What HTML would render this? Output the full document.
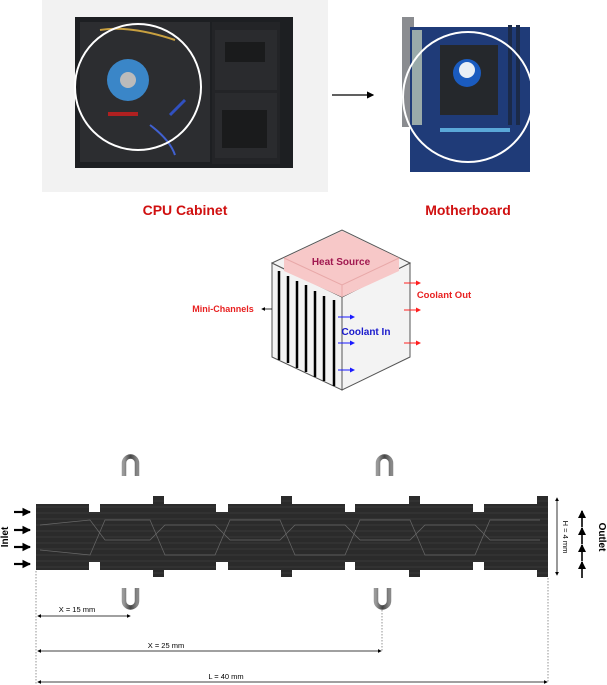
<!DOCTYPE html>
<html><head><meta charset="utf-8"><style>
html,body{margin:0;padding:0;background:#fff;}
svg{display:block;font-family:"Liberation Sans",Arial,sans-serif;}
</style></head><body>
<svg width="607" height="685" viewBox="0 0 607 685" xmlns="http://www.w3.org/2000/svg">
<defs>
<marker id="ah" markerWidth="6" markerHeight="6" refX="5" refY="3" orient="auto"><path d="M0,0 L6,3 L0,6 z" fill="#000"/></marker>
<marker id="ai" markerWidth="4" markerHeight="4" refX="3.5" refY="2" orient="auto"><path d="M0,0 L4,2 L0,4 z" fill="#000"/></marker>
<marker id="ahs" markerWidth="5" markerHeight="5" refX="4" refY="2.5" orient="auto-start-reverse"><path d="M0,0 L5,2.5 L0,5 z" fill="#000"/></marker>
<marker id="ab" markerWidth="5" markerHeight="5" refX="4" refY="2.5" orient="auto"><path d="M0,0 L5,2.5 L0,5 z" fill="#1a1aff"/></marker>
<marker id="ar" markerWidth="5" markerHeight="5" refX="4" refY="2.5" orient="auto"><path d="M0,0 L5,2.5 L0,5 z" fill="#ff2020"/></marker>
<linearGradient id="ug" x1="0" x2="1"><stop offset="0" stop-color="#999"/><stop offset="0.5" stop-color="#444"/><stop offset="1" stop-color="#888"/></linearGradient>
<pattern id="tex" width="6" height="6" patternUnits="userSpaceOnUse"><rect width="6" height="6" fill="#2b2b2b"/><path d="M0,3 H6" stroke="#3a3a3a" stroke-width="1"/></pattern>
</defs>

<rect x="42" y="0" width="286" height="192" fill="#f2f2f2"/>
<rect x="75" y="17" width="218" height="151" fill="#1d1f22"/>
<rect x="80" y="22" width="130" height="140" fill="#2c2d30"/>
<rect x="212" y="22" width="68" height="142" fill="#232427"/>
<rect x="215" y="30" width="62" height="60" fill="#2a2b2e"/>
<rect x="215" y="93" width="62" height="65" fill="#2a2b2e"/>
<g fill="#111"><rect x="225" y="42" width="40" height="20" opacity="0.6"/><rect x="222" y="110" width="45" height="38" opacity="0.6"/></g>
<rect x="108" y="112" width="30" height="4" fill="#b02020"/>
<path d="M100,30 Q130,25 175,40" stroke="#c8a040" stroke-width="2" fill="none"/>
<path d="M170,115 L185,100" stroke="#3050c0" stroke-width="3"/>
<path d="M150,125 Q170,140 175,155" stroke="#4060d0" stroke-width="2" fill="none"/>
<circle cx="128" cy="80" r="21" fill="#3a86c8"/>
<circle cx="128" cy="80" r="8" fill="#bbb"/>
<circle cx="138" cy="87" r="63" fill="none" stroke="#fff" stroke-width="2"/>
<line x1="332" y1="95" x2="373" y2="95" stroke="#000" stroke-width="1.2" marker-end="url(#ah)"/>
<rect x="402" y="17" width="12" height="110" fill="#8a8c90"/>
<rect x="410" y="27" width="120" height="145" fill="#1f3b78"/>
<rect x="412" y="30" width="10" height="95" fill="#9aa"/>
<rect x="440" y="45" width="58" height="70" fill="#25282c"/>
<circle cx="467" cy="73" r="14" fill="#1a5bbf"/>
<circle cx="467" cy="70" r="8" fill="#e8eef5"/>
<rect x="440" y="128" width="70" height="4" fill="#5aa8d8"/>
<rect x="508" y="25" width="4" height="100" fill="#1b2a48"/>
<rect x="516" y="25" width="4" height="100" fill="#1b2a48"/>
<circle cx="468" cy="97" r="65" fill="none" stroke="#fff" stroke-width="2"/>
<text x="185" y="215" font-size="14" font-weight="bold" fill="#d01010" text-anchor="middle">CPU Cabinet</text>
<text x="468" y="215" font-size="14" font-weight="bold" fill="#d01010" text-anchor="middle">Motherboard</text>

<polygon points="342,297 410,263 410,357 342,390" fill="#f3f3f3" stroke="#555" stroke-width="1"/>
<polygon points="272,263 342,297 342,390 272,357" fill="#f3f3f3" stroke="#555" stroke-width="1"/>
<polygon points="272,263 342,230 410,263 342,297" fill="#f3f3f3" stroke="#555" stroke-width="1"/>
<polygon points="284,258 342,231 399,258 399,271 342,297 284,271" fill="#f7c8c8"/>
<polyline points="284,258 342,285 399,258" fill="none" stroke="#e8a8a8" stroke-width="1"/>
<line x1="342" y1="285" x2="342" y2="297" stroke="#e8a8a8"/>
<g stroke="#000" stroke-width="2.5">
<line x1="279" y1="271" x2="279" y2="360"/>
<line x1="288" y1="276" x2="288" y2="363"/>
<line x1="297" y1="281" x2="297" y2="368"/>
<line x1="306" y1="285" x2="306" y2="372"/>
<line x1="315" y1="291" x2="315" y2="377"/>
<line x1="324" y1="296" x2="324" y2="381"/>
<line x1="334" y1="300" x2="334" y2="386"/>
</g>
<text x="341" y="265" font-size="10" font-weight="bold" fill="#a01850" text-anchor="middle">Heat Source</text>
<text x="444" y="298" font-size="9.5" font-weight="bold" fill="#e82020" text-anchor="middle">Coolant Out</text>
<text x="223" y="312" font-size="9" font-weight="bold" fill="#e82020" text-anchor="middle">Mini-Channels</text>
<line x1="272" y1="309" x2="262" y2="309" stroke="#000" stroke-width="0.8" marker-end="url(#ahs)"/>
<text x="366" y="335" font-size="10" font-weight="bold" fill="#1a1acc" text-anchor="middle">Coolant In</text>
<g stroke="#1a1aff" stroke-width="1"><line x1="338" y1="317" x2="354" y2="317" marker-end="url(#ab)"/><line x1="338" y1="343" x2="354" y2="343" marker-end="url(#ab)"/><line x1="338" y1="370" x2="354" y2="370" marker-end="url(#ab)"/></g>
<g stroke="#ff2020" stroke-width="1"><line x1="404" y1="283" x2="420" y2="283" marker-end="url(#ar)"/><line x1="404" y1="310" x2="420" y2="310" marker-end="url(#ar)"/><line x1="404" y1="343" x2="420" y2="343" marker-end="url(#ar)"/></g>

<g fill="url(#tex)">
<rect x="36" y="504" width="512" height="66"/>
<rect x="153" y="496" width="11" height="81"/>
<rect x="281" y="496" width="11" height="81"/>
<rect x="409" y="496" width="11" height="81"/>
<rect x="537" y="496" width="11" height="81"/>
</g>
<g fill="#fff">
<rect x="89" y="503" width="11" height="9"/><rect x="89" y="562" width="11" height="9"/>
<rect x="216" y="503" width="12" height="9"/><rect x="216" y="562" width="12" height="9"/>
<rect x="345" y="503" width="10" height="9"/><rect x="345" y="562" width="10" height="9"/>
<rect x="473" y="503" width="11" height="9"/><rect x="473" y="562" width="11" height="9"/>
</g>
<g stroke="#777" stroke-width="0.7" fill="none" opacity="0.8">
<path d="M40,525 L90,520 L105,540 L150,540 L165,525 L215,525 L230,540 L280,540 L295,525 L345,525 L360,540 L410,540 L425,525 L475,525 L490,540 L540,540"/>
<path d="M40,550 L90,555 L105,520 L150,520 L165,555 L215,555 L230,520 L280,520 L295,555 L345,555 L360,520 L410,520 L425,555 L475,555 L490,520 L540,520"/>
</g>
<g fill="none" stroke="url(#ug)" stroke-width="4.5">
<path d="M124,476 V463 A6.5,6.5 0 0 1 137,463 V476"/>
<path d="M378,476 V463 A6.5,6.5 0 0 1 391,463 V476"/>
<path d="M124,588 V601 A6.5,6.5 0 0 0 137,601 V588"/>
<path d="M376,588 V601 A6.5,6.5 0 0 0 389,601 V588"/>
</g>
<g stroke="#000" stroke-width="2.2">
<line x1="14" y1="512" x2="30" y2="512" marker-end="url(#ai)"/>
<line x1="14" y1="530" x2="30" y2="530" marker-end="url(#ai)"/>
<line x1="14" y1="547" x2="30" y2="547" marker-end="url(#ai)"/>
<line x1="14" y1="564" x2="30" y2="564" marker-end="url(#ai)"/>
</g>
<g stroke="#333" stroke-width="2">
<line x1="582" y1="527" x2="582" y2="511" marker-end="url(#ai)"/>
<line x1="582" y1="544" x2="582" y2="528" marker-end="url(#ai)"/>
<line x1="582" y1="561" x2="582" y2="545" marker-end="url(#ai)"/>
<line x1="582" y1="578" x2="582" y2="562" marker-end="url(#ai)"/>
</g>
<text transform="translate(8,537) rotate(-90)" font-size="10" font-weight="bold" text-anchor="middle">Inlet</text>
<text transform="translate(599,537) rotate(90)" font-size="10" font-weight="bold" text-anchor="middle">Outlet</text>
<line x1="557" y1="498" x2="557" y2="575" stroke="#000" stroke-width="0.8" marker-start="url(#ahs)" marker-end="url(#ahs)"/>
<text transform="translate(563,537) rotate(90)" font-size="7.5" text-anchor="middle">H = 4 mm</text>
<g stroke="#666" stroke-width="0.7" stroke-dasharray="1.5,1.5">
<line x1="36" y1="571" x2="36" y2="684"/>
<line x1="382" y1="610" x2="382" y2="651"/>
<line x1="548" y1="578" x2="548" y2="682"/>
</g>
<g stroke="#000" stroke-width="0.8">
<line x1="38" y1="616" x2="130" y2="616" marker-start="url(#ahs)" marker-end="url(#ahs)"/>
<line x1="38" y1="651" x2="381" y2="651" marker-start="url(#ahs)" marker-end="url(#ahs)"/>
<line x1="38" y1="682" x2="547" y2="682" marker-start="url(#ahs)" marker-end="url(#ahs)"/>
</g>
<g font-size="7.5" text-anchor="middle">
<text x="77" y="612">X = 15 mm</text>
<text x="166" y="648">X = 25 mm</text>
<text x="226" y="679">L = 40 mm</text>
</g>
</svg>
</body></html>
